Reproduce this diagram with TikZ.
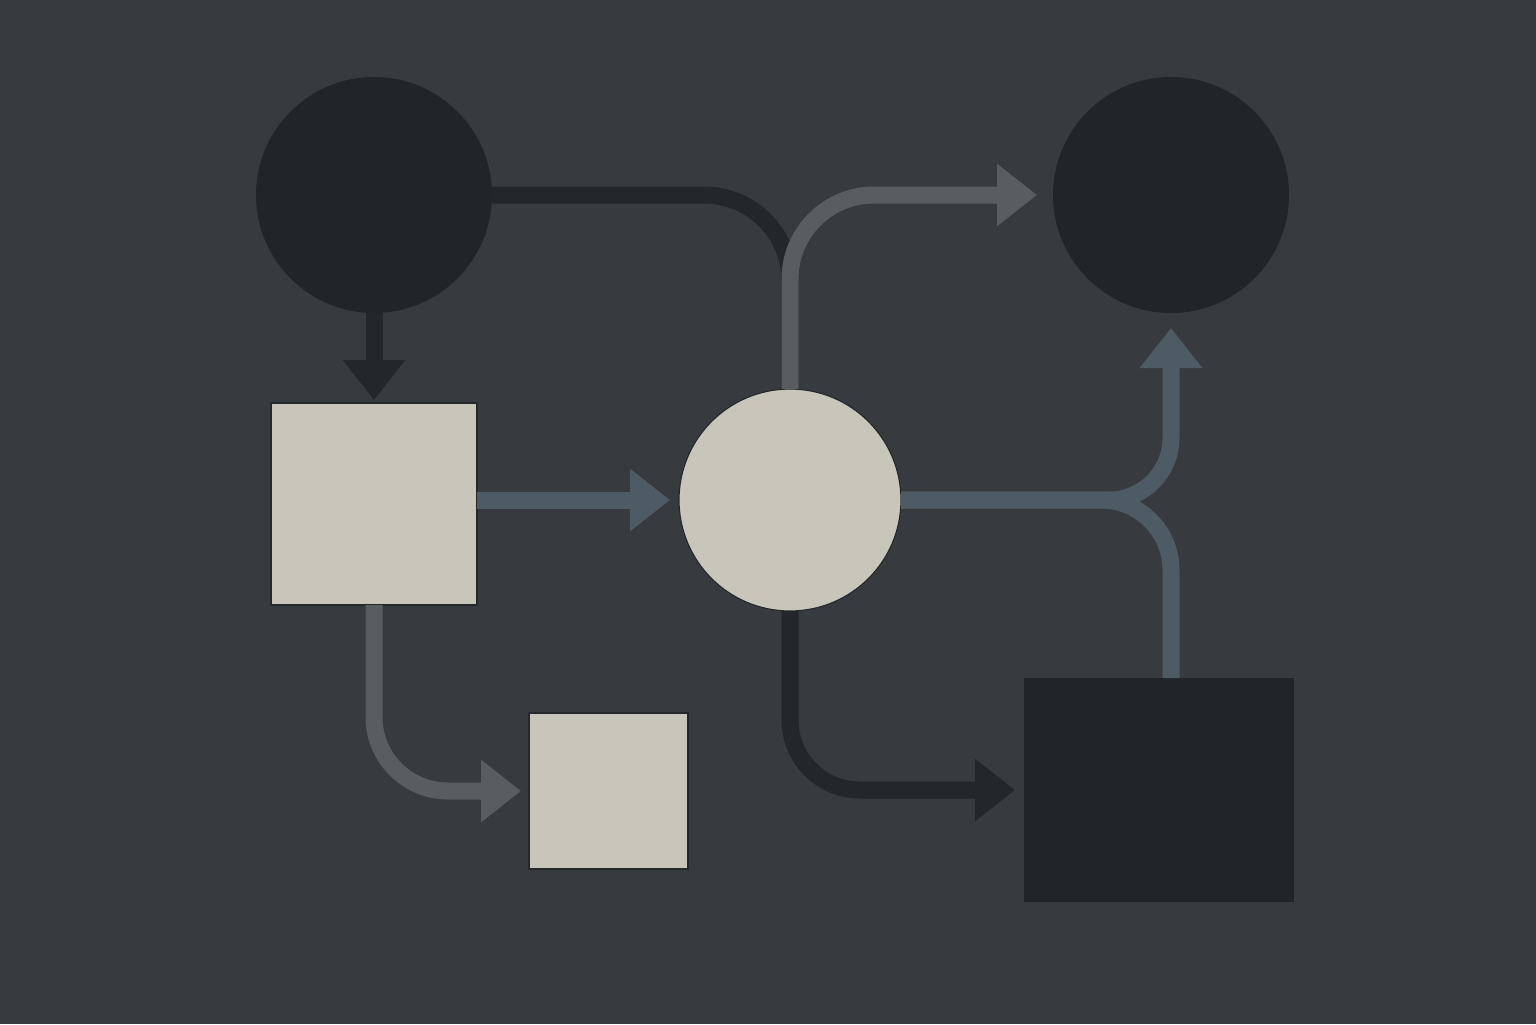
\documentclass[tikz,border=0pt]{standalone}
\usetikzlibrary{arrows.meta,calc}
\definecolor{bgc}{HTML}{373B3F}
\definecolor{darkfill}{HTML}{212529}
\definecolor{lightfill}{HTML}{C8C6BB}
\definecolor{edgec}{HTML}{26292C}
\definecolor{grayline}{HTML}{595D60}
\definecolor{blueline}{HTML}{4F5B64}
\definecolor{darkline}{HTML}{23272A}
\begin{document}
\begin{tikzpicture}[x=0.5pt,y=-0.5pt,
  darkshape/.style={fill=darkfill, draw=none, inner sep=0pt, outer sep=0pt},
  lightshape/.style={fill=lightfill, draw=edgec, line width=0.6pt, inner sep=0pt, outer sep=0pt},
  flow/.style={line width=8.5pt},
  flowtip/.style={flow, -{Triangle[length=20pt,width=30pt]}}]
\fill[bgc] (0,0) rectangle (1536,1024);
\useasboundingbox (0,0) rectangle (1536,1024);

\node[darkshape, circle, minimum size=118pt] (A) at (374,195) {};
\node[darkshape, circle, minimum size=118pt] (B) at (1171,195) {};
\node[lightshape, rectangle, minimum width=103pt, minimum height=101pt] (C) at (374,504) {};
\node[lightshape, circle, minimum size=111pt] (D) at (790,500) {};
\node[lightshape, rectangle, minimum width=79.5pt, minimum height=78pt] (E) at (608.5,791) {};
\node[darkshape, rectangle, minimum width=135pt, minimum height=112pt] (F) at (1159,790) {};
\coordinate (Ftop) at ($(F.north)+(12,0)$);

% A -> C
\draw[flowtip, darkline, shorten >=1.5pt] (A.south) -- (C.north);
% A merging into D's upper line
\draw[flow, darkline, rounded corners=43pt] (A.east) -| (D.north);
% D -> B (top)
\draw[flowtip, grayline, rounded corners=42pt, shorten >=8pt] (D.north) |- (B.west);
% C -> D
\draw[flowtip, blueline, shorten >=4.5pt] (C.east |- D.west) -- (D.west);
% D -> B (right, up)
\draw[flowtip, blueline, rounded corners=31pt, shorten >=7.5pt] (D.east) -| (B.south);
% F merging into D's right line
\draw[flow, blueline, rounded corners=35pt] (Ftop) |- (D.east);
% C -> E
\draw[flowtip, grayline, rounded corners=37pt, shorten >=4pt] (C.south) |- (E.west);
% D -> F
\draw[flowtip, darkline, rounded corners=35pt, shorten >=4.5pt] (D.south) |- (F.west);
\end{tikzpicture}
\end{document}
